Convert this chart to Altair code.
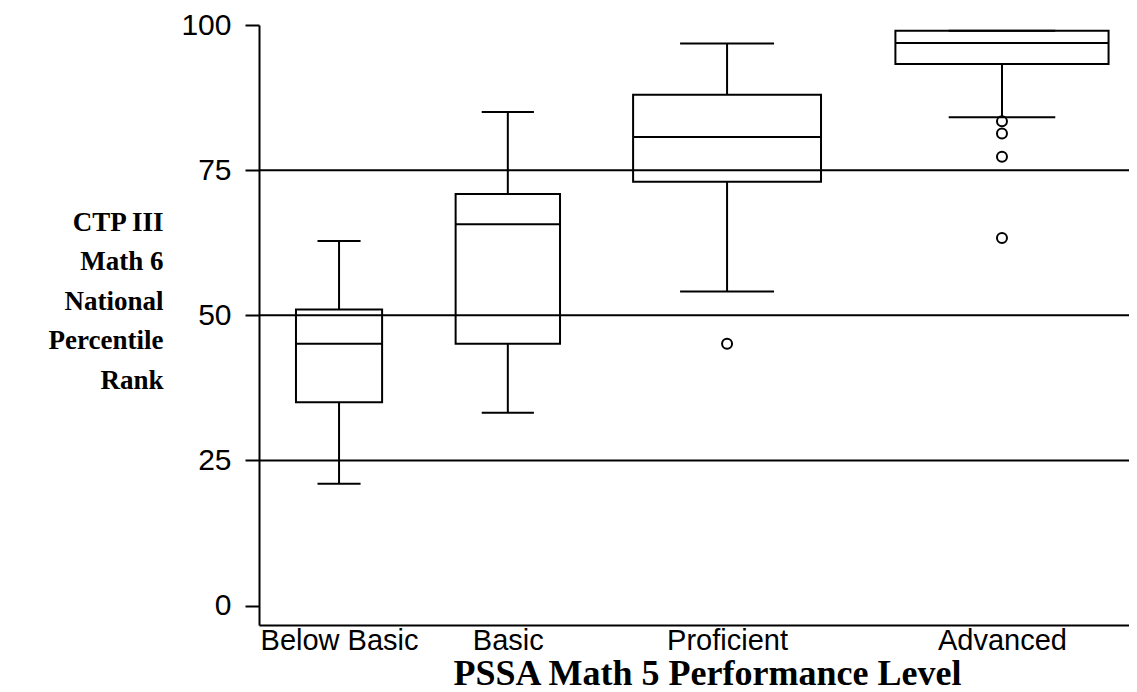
import altair as alt
import pandas as pd

# ---- data ----
categories = ["Below Basic", "Basic", "Proficient", "Advanced"]
# category location on a 0-100 horizontal axis, and box width (same units)
cat_position = [9.2, 28.6, 53.8, 85.4]
box_width = [9.9, 12.0, 21.6, 24.5]
lower_whisker = [21.0, 33.2, 54.1, 84.1]
q1 = [35.0, 45.1, 73.0, 93.3]
median = [45.1, 65.7, 80.7, 96.9]
q3 = [51.0, 70.9, 88.0, 99.0]
upper_whisker = [62.8, 85.0, 96.8, 99.0]

outlier_category = ["Proficient", "Advanced", "Advanced", "Advanced", "Advanced"]
outlier_value = [45.1, 83.4, 81.3, 77.3, 63.3]

grid_values = [25, 50, 75]
y_ticks = [0, 25, 50, 75, 100]

# ---- tables ----
boxes = pd.DataFrame({
    "cat": categories, "pos": cat_position, "w": box_width,
    "lo": lower_whisker, "q1": q1, "med": median, "q3": q3, "hi": upper_whisker,
})
pos_map = dict(zip(categories, cat_position))
outliers = pd.DataFrame({
    "cat": outlier_category,
    "pos": [pos_map[c] for c in outlier_category],
    "v": outlier_value,
})
grid = pd.DataFrame({"g": grid_values})

label_expr = " : ".join(
    f"datum.value == {p} ? '{c}'" for p, c in zip(cat_position, categories)
) + " : ''"

X_DOMAIN = [0, 100]
Y_DOMAIN = [-3.35, 100]

x_axis = alt.Axis(
    values=cat_position, labelExpr=label_expr, ticks=False, tickSize=0,
    grid=False, labelFont="Liberation Sans", labelFontSize=29, labelColor="black",
    labelPadding=1, labelFlush=False, labelOverlap=False,
    domainColor="black", domainWidth=2,
    title="PSSA Math 5 Performance Level", titleFont="Liberation Serif",
    titleFontWeight="bold", titleFontSize=36, titleColor="black",
    titleX=448, titleY=59, titleAlign="center", titleBaseline="alphabetic",
)
y_axis = alt.Axis(
    values=y_ticks, grid=False, tickSize=14, tickColor="black", tickWidth=2,
    labelFont="Liberation Sans", labelFontSize=30, labelColor="black",
    labelPadding=14, domainColor="black", domainWidth=2,
    title=["CTP III", "Math 6", "National", "Percentile", "Rank"],
    titleFont="Liberation Serif", titleFontWeight="bold", titleFontSize=27,
    titleColor="black", titleAngle=0, titleAlign="right", titleBaseline="middle",
    titleX=-96, titleY=197, titleLineHeight=39.5,
)

xs = alt.Scale(domain=X_DOMAIN, nice=False, zero=False)
ys = alt.Scale(domain=Y_DOMAIN, nice=False, zero=False)

base = alt.Chart(boxes).transform_calculate(
    xl="datum.pos - datum.w/2", xr="datum.pos + datum.w/2",
    cl="datum.pos - datum.w/4", cr="datum.pos + datum.w/4",
)

gridlines = alt.Chart(grid).mark_rule(color="black", strokeWidth=2).encode(
    y=alt.Y("g:Q", scale=ys, axis=y_axis)
)

whisk_lo = base.mark_rule(color="black", strokeWidth=2).encode(
    x=alt.X("pos:Q", scale=xs, axis=x_axis), y=alt.Y("lo:Q", scale=ys), y2="q1:Q"
)
whisk_hi = base.mark_rule(color="black", strokeWidth=2).encode(
    x=alt.X("pos:Q", scale=xs), y=alt.Y("q3:Q", scale=ys), y2="hi:Q"
)
cap_lo = base.mark_rule(color="black", strokeWidth=2).encode(
    x=alt.X("cl:Q", scale=xs), x2="cr:Q", y=alt.Y("lo:Q", scale=ys)
)
cap_hi = base.mark_rule(color="black", strokeWidth=2).encode(
    x=alt.X("cl:Q", scale=xs), x2="cr:Q", y=alt.Y("hi:Q", scale=ys)
)
box = base.mark_rect(fill="white", fillOpacity=0, stroke="black", strokeWidth=2).encode(
    x=alt.X("xl:Q", scale=xs), x2="xr:Q", y=alt.Y("q1:Q", scale=ys), y2="q3:Q"
)
med = base.mark_rule(color="black", strokeWidth=2).encode(
    x=alt.X("xl:Q", scale=xs), x2="xr:Q", y=alt.Y("med:Q", scale=ys)
)
pts = alt.Chart(outliers).mark_point(
    shape="circle", filled=False, color="black", strokeWidth=2, size=100, opacity=1
).encode(x=alt.X("pos:Q", scale=xs), y=alt.Y("v:Q", scale=ys))

chart = alt.layer(gridlines, whisk_lo, whisk_hi, cap_lo, cap_hi, box, med, pts).properties(
    width=870, height=600,
    padding={"left": 251, "top": 17, "right": 0, "bottom": 67},
    autosize=alt.AutoSizeParams(type="none"),
    background="white",
).configure_view(stroke=None)

chart.save("out.html", embed_options={"renderer": "svg", "actions": False})
